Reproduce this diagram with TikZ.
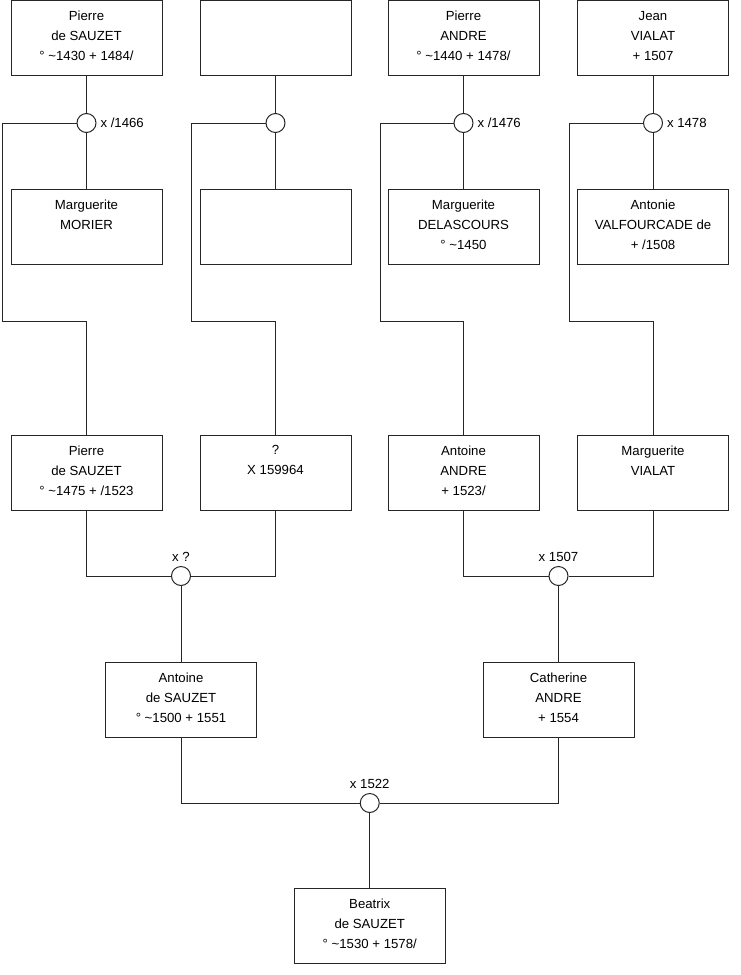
\documentclass[tikz,border=0pt]{standalone}
\usepackage{fontspec}
\setmainfont{Liberation Sans}
\begin{document}
\begin{tikzpicture}[x=1pt,y=-1pt,
  line width=1pt,
  conn/.style={draw=black!85,line width=1pt},
  person/.style={draw=black!85,line width=1pt,minimum width=151pt,minimum height=75pt,inner sep=0pt,fill=white},
  txt/.style={anchor=north,inner sep=0pt,align=center,font=\fontsize{13.2}{20}\selectfont},
  union/.style={circle,draw=black!85,line width=1pt,fill=white,minimum size=19pt,inner sep=0pt},
  rlab/.style={anchor=base west,inner sep=3.5pt,font=\fontsize{13.2}{15}\selectfont},
  tlab/.style={anchor=base,inner sep=0pt,font=\fontsize{13.2}{15}\selectfont}]
\useasboundingbox (0,0) rectangle (740,975);

% top row
\node[person] (p1) at (86.5,38) {};
\node[txt] (t1) at ([yshift=-10.5pt]p1.north) {Pierre\\de SAUZET\\° \textasciitilde1430 + 1484/};
\node[person] (p2) at (275.5,38) {};
\node[person] (p3) at (463.5,38) {};
\node[txt] (t3) at ([yshift=-10.5pt]p3.north) {Pierre\\ANDRE\\° \textasciitilde1440 + 1478/};
\node[person] (p4) at (653,38) {};
\node[txt] (t4) at ([yshift=-10.5pt]p4.north) {Jean\\VIALAT\\+ 1507};

% second row
\node[person] (m1) at (86.5,227) {};
\node[txt] (u1) at ([yshift=-10.5pt]m1.north) {Marguerite\\MORIER};
\node[person] (m2) at (275.5,227) {};
\node[person] (m3) at (463.5,227) {};
\node[txt] (u3) at ([yshift=-10.5pt]m3.north) {Marguerite\\DELASCOURS\\° \textasciitilde1450};
\node[person] (m4) at (653,227) {};
\node[txt] (u4) at ([yshift=-10.5pt]m4.north) {Antonie\\VALFOURCADE de\\+ /1508};

% third row
\node[person] (g1) at (86.5,472.5) {};
\node[txt] (v1) at ([yshift=-10.5pt]g1.north) {Pierre\\de SAUZET\\° \textasciitilde1475 + /1523};
\node[person] (g2) at (275.5,472.5) {};
\node[txt] (v2) at ([yshift=-10.5pt]g2.north) {?\\X 159964};
\node[person] (g3) at (463.5,472.5) {};
\node[txt] (v3) at ([yshift=-10.5pt]g3.north) {Antoine\\ANDRE\\+ 1523/};
\node[person] (g4) at (653,472.5) {};
\node[txt] (v4) at ([yshift=-10.5pt]g4.north) {Marguerite\\VIALAT};

% fourth row
\node[person] (a1) at (181,699.5) {};
\node[txt] (w1) at ([yshift=-10.5pt]a1.north) {Antoine\\de SAUZET\\° \textasciitilde1500 + 1551};
\node[person] (a2) at (558.5,699.5) {};
\node[txt] (w2) at ([yshift=-10.5pt]a2.north) {Catherine\\ANDRE\\+ 1554};

% bottom
\node[person] (b) at (369.75,926) {};
\node[txt] (wb) at ([yshift=-10.5pt]b.north) {Beatrix\\de SAUZET\\° \textasciitilde1530 + 1578/};

% union circles
\node[union] (c1) at (86.5,123) {};
\node[union] (c2) at (275.5,123) {};
\node[union] (c3) at (463.5,123) {};
\node[union] (c4) at (653,123) {};
\node[union] (cL) at (181,576) {};
\node[union] (cR) at (558.5,576) {};
\node[union] (cB) at (369.75,803) {};

% junction coordinates
\coordinate (j1) at (2,321);
\coordinate (j2) at (191,321);
\coordinate (j3) at (380,321);
\coordinate (j4) at (569,321);

% connectors top
\draw[conn] (p1.south) -- (c1.north);
\draw[conn] (c1.south) -- (m1.north);
\draw[conn] (c1.west) -| (j1) -| (g1.north);
\draw[conn] (p2.south) -- (c2.north);
\draw[conn] (c2.south) -- (m2.north);
\draw[conn] (c2.west) -| (j2) -| (g2.north);
\draw[conn] (p3.south) -- (c3.north);
\draw[conn] (c3.south) -- (m3.north);
\draw[conn] (c3.west) -| (j3) -| (g3.north);
\draw[conn] (p4.south) -- (c4.north);
\draw[conn] (c4.south) -- (m4.north);
\draw[conn] (c4.west) -| (j4) -| (g4.north);

% connectors middle
\draw[conn] (g1.south) |- (cL.west);
\draw[conn] (g2.south) |- (cL.east);
\draw[conn] (cL.south) -- (a1.north);
\draw[conn] (g3.south) |- (cR.west);
\draw[conn] (g4.south) |- (cR.east);
\draw[conn] (cR.south) -- (a2.north);

% connectors bottom
\draw[conn] (a1.south) |- (cB.west);
\draw[conn] (a2.south) |- (cB.east);
\draw[conn] (cB.south) -- (b.north);

% labels
\node[rlab] (l1) at ([yshift=-4.5pt]c1.east) {x /1466};
\node[rlab] (l3) at ([yshift=-4.5pt]c3.east) {x /1476};
\node[rlab] (l4) at ([yshift=-4.5pt]c4.east) {x 1478};
\node[tlab] (lL) at ([yshift=4.2pt]cL.north) {x ?};
\node[tlab] (lR) at ([yshift=4.2pt]cR.north) {x 1507};
\node[tlab] (lB) at ([yshift=4.2pt]cB.north) {x 1522};
\end{tikzpicture}
\end{document}
